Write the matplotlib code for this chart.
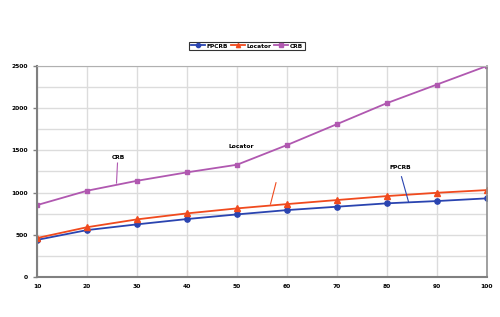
import matplotlib.pyplot as plt
from matplotlib.ticker import MultipleLocator

# values
x_vals = [10, 20, 30, 40, 50, 60, 70, 80, 90, 100]
fpcrb = [440, 556, 624, 687, 742, 793, 833, 873, 900, 932]
locator = [462, 590, 683, 754, 813, 864, 912, 959, 998, 1030]
crb = [852, 1022, 1140, 1240, 1330, 1563, 1811, 2060, 2280, 2500]

fig = plt.figure(figsize=(5, 3.17), dpi=100)
ax = fig.add_axes([0.074, 0.126, 0.90, 0.666])

ax.plot(x_vals, fpcrb, color='#2a44b0', marker='o', markersize=3.8, lw=1.3, label='FPCRB')
ax.plot(x_vals, locator, color='#f04a1e', marker='^', markersize=3.8, lw=1.3, label='Locator')
ax.plot(x_vals, crb, color='#b058b0', marker='s', markersize=3.3, lw=1.3, label='CRB')

ax.set_xlim(10, 100)
ax.set_ylim(0, 2500)
ax.set_xticks(x_vals)
ax.yaxis.set_major_locator(MultipleLocator(500))
ax.yaxis.set_minor_locator(MultipleLocator(250))
ax.grid(True, which='both', color='#dcdcdc', lw=1)
ax.set_axisbelow(True)
ax.tick_params(axis='both', which='major', labelsize=4.3, length=3, color='#808080', width=1)
ax.tick_params(axis='y', which='minor', length=0)
ax.tick_params(axis='x', length=0, pad=5)
for lbl in ax.get_xticklabels() + ax.get_yticklabels():
    lbl.set_fontweight('bold')

for side in ('left', 'bottom'):
    ax.spines[side].set_color('#808080')
    ax.spines[side].set_linewidth(1.5)
ax.spines['right'].set_color('#909090')
ax.spines['right'].set_linewidth(1.2)
ax.spines['top'].set_color('#b0b0b0')

# callout labels
ax.text(26.2, 1420, 'CRB', fontsize=4.3, fontweight='bold', ha='center', va='center')
ax.plot([26.1, 25.9], [1350, 1113], color='#b058b0', lw=0.8)
ax.text(50.9, 1543, 'Locator', fontsize=4.3, fontweight='bold', ha='center', va='center')
ax.plot([57.8, 56.7], [1117, 864], color='#f04a1e', lw=0.8)
ax.text(82.6, 1298, 'FPCRB', fontsize=4.3, fontweight='bold', ha='center', va='center')
ax.plot([82.9, 84.3], [1188, 892], color='#2a44b0', lw=0.8)

leg = fig.legend(loc='center', bbox_to_anchor=(0.494, 0.855), ncol=3, fontsize=4.2,
                 frameon=True, fancybox=False, edgecolor='black', handlelength=2.4,
                 columnspacing=0.5, handletextpad=0.25, borderpad=0.3, markerscale=0.8)
leg.get_frame().set_linewidth(0.8)
for t in leg.get_texts():
    t.set_fontweight('bold')

fig.savefig('out.png', dpi=100)
